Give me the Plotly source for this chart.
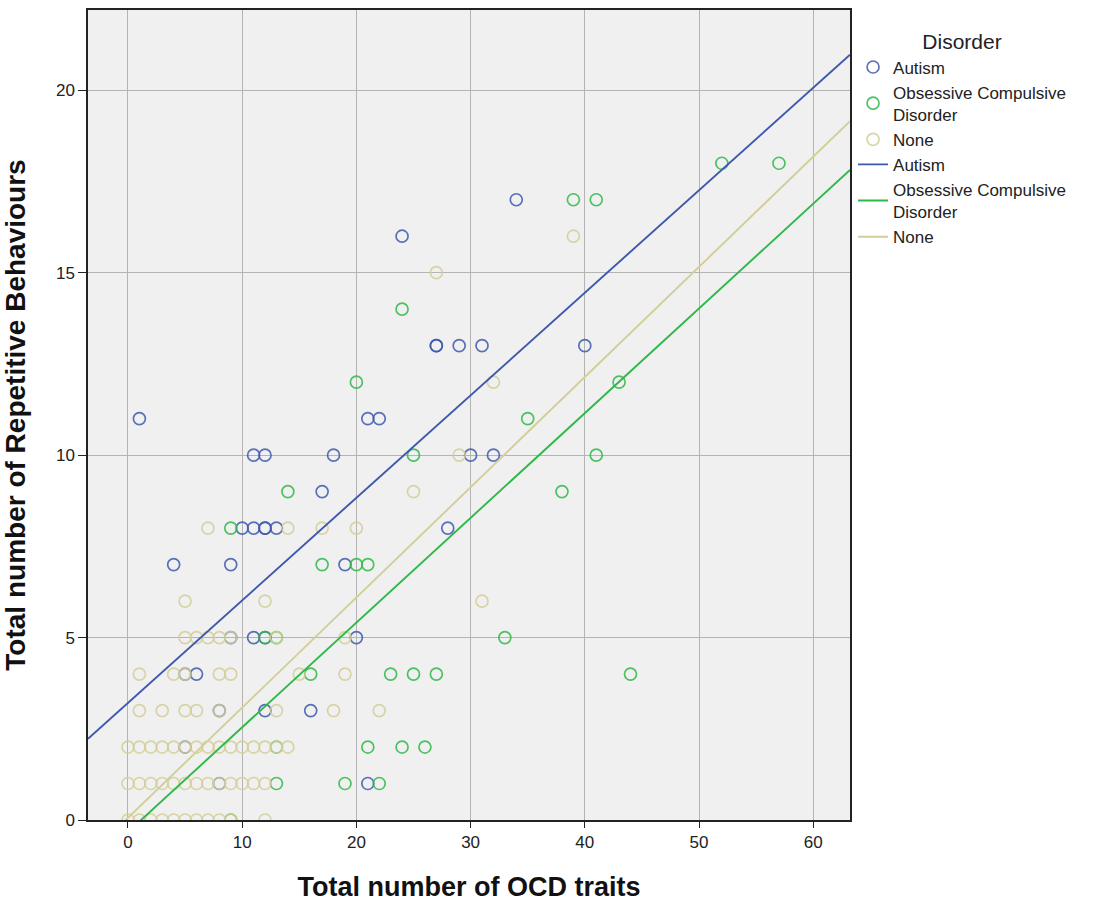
import plotly.graph_objects as go

# ---- data ----
groups = ["Autism", "Obsessive Compulsive Disorder", "None"]
legend_names = ["Autism", "Obsessive Compulsive<br>Disorder", "None"]
colors = ["#3E58AC", "#2EB848", "#D3CE97"]

autism_x = [1, 4, 9, 9, 11, 12, 10, 11, 12, 12, 13, 17, 18, 21, 22, 11, 12, 19,
            20, 24, 27, 27, 29, 31, 40, 34, 30, 32, 28, 6, 5, 8, 12, 16, 8, 21, 5]
autism_y = [11, 7, 7, 5, 10, 10, 8, 8, 8, 8, 8, 9, 10, 11, 11, 5, 5, 7,
            5, 16, 13, 13, 13, 13, 13, 17, 10, 10, 8, 4, 4, 3, 3, 3, 1, 1, 2]

ocd_x = [9, 14, 17, 20, 21, 20, 24, 25, 35, 43, 39, 41, 52, 57, 41, 38, 33,
         12, 13, 16, 23, 25, 27, 44, 13, 21, 24, 26, 13, 19, 22, 9]
ocd_y = [8, 9, 7, 7, 7, 12, 14, 10, 11, 12, 17, 17, 18, 18, 10, 9, 5,
         5, 5, 4, 4, 4, 4, 4, 2, 2, 2, 2, 1, 1, 1, 0]

none_x = ([7, 14, 17, 20, 5, 12, 31, 5, 6, 7, 8, 9, 13, 19, 25, 29, 27, 39, 32,
           1, 4, 5, 8, 9, 15, 19, 1, 3, 5, 6, 8, 13, 18, 22]
          + list(range(0, 13)) + [13, 14]
          + list(range(0, 13))
          + list(range(0, 10)) + [12])
none_y = ([8, 8, 8, 8, 6, 6, 6, 5, 5, 5, 5, 5, 5, 5, 9, 10, 15, 16, 12,
           4, 4, 4, 4, 4, 4, 4, 3, 3, 3, 3, 3, 3, 3, 3]
          + [2] * 13 + [2, 2]
          + [1] * 13
          + [0] * 10 + [0])

xs = [autism_x, ocd_x, none_x]
ys = [autism_y, ocd_y, none_y]

# linear fit lines (intercept, slope)
fit_intercept = [3.21, -0.33, 0.06]
fit_slope = [0.281, 0.287, 0.302]

x_range = [-3.5, 63.22]
y_range = [0, 22.2]

fig = go.Figure()
for g, name, c, x, y in zip(groups, legend_names, colors, xs, ys):
    fig.add_trace(go.Scatter(
        x=x, y=y, mode="markers", name=name, legendgroup="pts",
        marker=dict(symbol="circle-open", size=12, color=c, opacity=0.85,
                    line=dict(width=1.7, color=c)),
        showlegend=True,
    ))
for g, name, c, b0, b1 in zip(groups, legend_names, colors, fit_intercept, fit_slope):
    lx = [x_range[0], x_range[1]]
    ly = [b0 + b1 * v for v in lx]
    fig.add_trace(go.Scatter(
        x=lx, y=ly, mode="lines", name=name, legendgroup="lines",
        line=dict(color=c, width=1.9),
    ))

axis_font = dict(family="Liberation Sans, Arial, sans-serif", size=17, color="#222")
fig.update_layout(
    width=1106, height=903,
    margin=dict(l=88, r=256, t=10, b=83),
    paper_bgcolor="white",
    plot_bgcolor="#F0F0F0",
    font=dict(family="Liberation Sans, Arial, sans-serif", color="#222"),
    legend=dict(
        x=1.004, xanchor="left", y=0.985, yanchor="top",
        font=dict(size=17, color="#222"),
        title=dict(text="Disorder", side="top center", font=dict(size=21, color="#222")),
        tracegroupgap=0, traceorder="normal",
        bgcolor="rgba(0,0,0,0)",
    ),
    xaxis=dict(
        range=x_range, tickvals=[0, 10, 20, 30, 40, 50, 60], automargin=False,
        showgrid=True, gridcolor="#B4B4B4", gridwidth=1.3,
        zeroline=False, showline=True, linecolor="#222", linewidth=1.5, mirror=True,
        ticks="outside", ticklen=6, tickcolor="#222", tickfont=axis_font,
        title=dict(text="<b>Total number of OCD traits</b>",
                   font=dict(size=27, color="#111"), standoff=26),
    ),
    yaxis=dict(
        range=y_range, tickvals=[0, 5, 10, 15, 20], automargin=False,
        showgrid=True, gridcolor="#B4B4B4", gridwidth=1.3,
        zeroline=False, showline=True, linecolor="#222", linewidth=1.5, mirror=True,
        ticks="outside", ticklen=8, tickcolor="#222", tickfont=axis_font,
        title=dict(text="<b>Total number of Repetitive Behaviours</b>",
                   font=dict(size=28, color="#111"), standoff=22),
    ),
)

fig.write_html("out.html")
